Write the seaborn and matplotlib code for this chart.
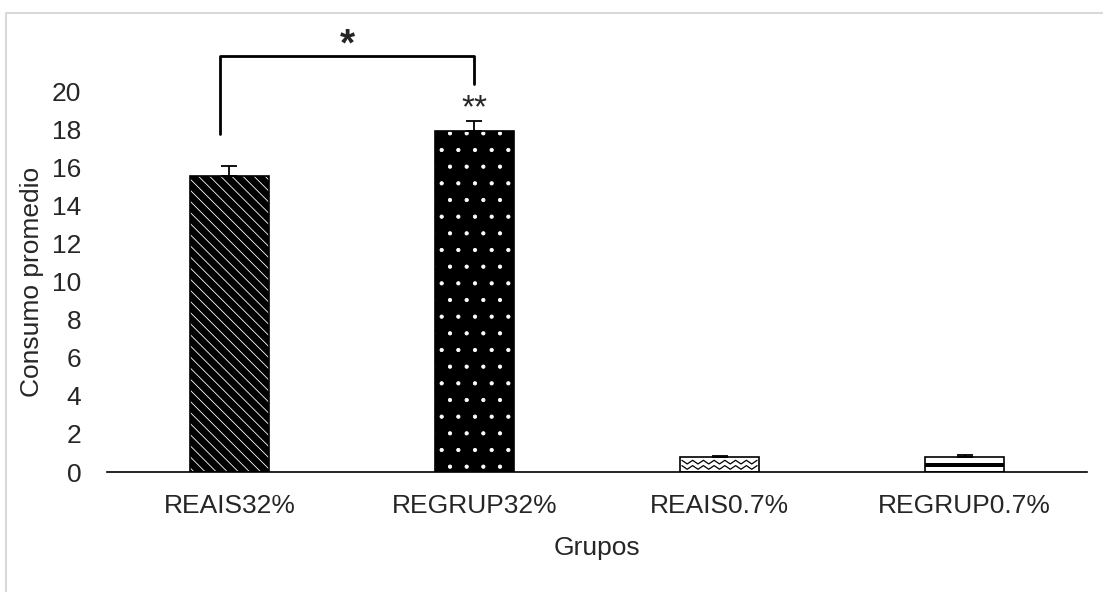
import numpy as np
import pandas as pd
import matplotlib
matplotlib.use("Agg")
import matplotlib.pyplot as plt
import seaborn as sns
from matplotlib.patches import Rectangle
from matplotlib.lines import Line2D

grupos = ["REAIS32%", "REGRUP32%", "REAIS0.7%", "REGRUP0.7%"]
consumo = [15.6, 17.95, 0.8, 0.8]
error = [0.5, 0.5, 0.06, 0.12]
yticks = [0, 2, 4, 6, 8, 10, 12, 14, 16, 18, 20]

sns.set_theme(style="white")
plt.rcParams['font.family'] = ['Liberation Sans', 'DejaVu Sans']
plt.rcParams['hatch.linewidth'] = 0.6

fig = plt.figure(figsize=(11.03, 5.92), dpi=100)
ax = fig.add_axes([0.097, 0.2027, 0.8885, 0.642])

df = pd.DataFrame({"Grupos": grupos, "Consumo": consumo})
sns.barplot(data=df, x="Grupos", y="Consumo", ax=ax, width=0.32,
            errorbar=None, color="white")

patches = ax.patches[:4]
face = ["black", "black", "white", "white"]
hatches = ["\\\\\\", ".", None, None]
for p, fc, h in zip(patches, face, hatches):
    p.set_facecolor(fc)
    if h:
        p.set_edgecolor("white")
        p.set_hatch(h)
    p.set_linewidth(0)
    ax.add_patch(Rectangle((p.get_x(), p.get_y()), p.get_width(), p.get_height(),
                           fill=False, edgecolor="black", linewidth=1.2, zorder=3))

# zigzag pattern for bar 3
p = patches[2]
x0, w, h = p.get_x(), p.get_width(), p.get_height()
n = 7
for row in [0.3, 0.65]:
    xs = np.linspace(x0 + 0.02 * w, x0 + 0.98 * w, 2 * n + 1)
    ys = [h * (row + (0.12 if i % 2 == 0 else -0.12)) for i in range(len(xs))]
    ax.plot(xs, ys, color="black", lw=0.9, zorder=2.5)

# horizontal band for bar 4
p = patches[3]
ax.add_patch(Rectangle((p.get_x(), p.get_height() * 0.35), p.get_width(), p.get_height() * 0.25,
                       facecolor="black", edgecolor="none", zorder=2.5))

ax.errorbar(range(len(grupos)), consumo, yerr=[[0] * 4, error], fmt="none",
            ecolor="black", elinewidth=1.3, capsize=6, capthick=1.3, zorder=4)

FS = 19
ax.set_ylim(0, 20)
ax.set_xlim(-0.5, 3.5)
ax.set_yticks(yticks)
ax.tick_params(axis="x", labelsize=FS, length=0, pad=16)
ax.tick_params(axis="y", labelsize=FS, length=0, pad=18.5)
ax.set_xlabel("Grupos", fontsize=FS, labelpad=12.5)
ax.set_ylabel("Consumo promedio", fontsize=FS, labelpad=5.5)
for s in ["top", "right", "left"]:
    ax.spines[s].set_visible(False)
ax.spines["bottom"].set_color("black")
ax.spines["bottom"].set_linewidth(1.2)

# significance bracket
xl, xr = -0.04, 1.0
ax.plot([xl, xl, xr, xr], [17.8, 21.9, 21.9, 20.4], color="black", lw=2,
        clip_on=False, zorder=5)
ax.text((xl + xr) / 2, 22.45, "*", ha="center", va="center", fontsize=28,
        fontweight="bold", clip_on=False)
ax.text(1.0, 19.1, "**", ha="center", va="center", fontsize=24, clip_on=False)

# chart frame (top and left edges visible)
fig.add_artist(Line2D([0.0055, 0.0055, 1.0], [0.0, 0.978, 0.978], transform=fig.transFigure,
                      color="#d9d9d9", linewidth=1.5))

fig.savefig("out.png", dpi=100)
